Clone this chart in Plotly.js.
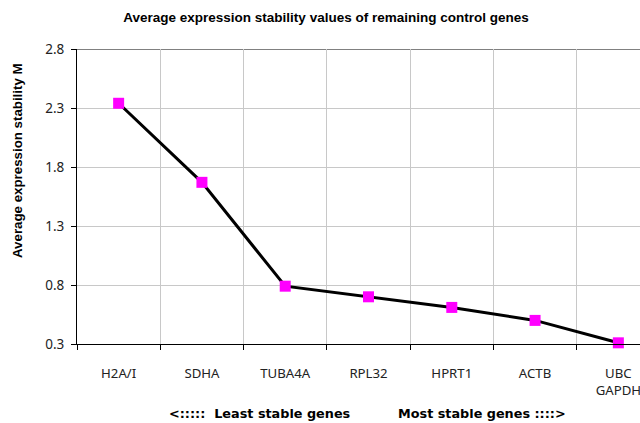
<!DOCTYPE html>
<html>
<head>
<meta charset="utf-8">
<script src="https://cdn.plot.ly/plotly-3.0.1.min.js"></script>
<style>
html,body{margin:0;padding:0;overflow:hidden;background:#fff;}
#chart{width:700px;height:423px;}
</style>
</head>
<body>
<div id="chart"></div>
<script>
const genes = ["H2A/I", "SDHA", "TUBA4A", "RPL32", "HPRT1", "ACTB", "UBC<br>GAPDH"];
const stabilityM = [2.34, 1.67, 0.79, 0.70, 0.61, 0.50, 0.31];
const yTicks = [0.3, 0.8, 1.3, 1.8, 2.3, 2.8];

const trace = {
  x: genes,
  y: stabilityM,
  type: "scatter",
  mode: "lines+markers",
  line: {color: "#000000", width: 3},
  marker: {symbol: "square", color: "#ff00ff", size: 11},
  cliponaxis: false,
  hoverinfo: "x+y"
};

const layout = {
  width: 700,
  height: 423,
  margin: {l: 77, r: 40, t: 49, b: 79},
  paper_bgcolor: "#ffffff",
  plot_bgcolor: "#ffffff",
  showlegend: false,
  font: {family: "Liberation Sans, Arial, sans-serif", color: "#222"},
  title: {
    text: "<b>Average expression stability values of remaining control genes</b>",
    font: {size: 13.5, color: "#000", family: "Liberation Sans, Arial, sans-serif"},
    xref: "container", x: 326/700, xanchor: "center",
    yref: "container", y: 1 - 17/423, yanchor: "middle"
  },
  xaxis: {
    type: "category",
    range: [-0.5, 6.5],
    tickson: "boundaries",
    ticks: "outside",
    ticklen: 5,
    tickcolor: "#000",
    showgrid: true,
    gridcolor: "#c8c8c8",
    gridwidth: 1,
    showline: true,
    linecolor: "#000",
    linewidth: 1,
    tickfont: {size: 13.2, color: "#222", family: "Noto Sans, sans-serif"},
    ticklabelstandoff: 17,
    zeroline: false,
    fixedrange: true
  },
  yaxis: {
    range: [0.3, 2.8],
    tickvals: yTicks,
    ticktext: yTicks.map(v => v.toFixed(1)),
    ticks: "outside",
    ticklen: 5,
    tickcolor: "#000",
    showgrid: true,
    gridcolor: "#c8c8c8",
    gridwidth: 1,
    showline: true,
    linecolor: "#000",
    linewidth: 1,
    tickfont: {size: 13.5, color: "#222", family: "Noto Sans, sans-serif"},
    ticklabelstandoff: 4,
    zeroline: false,
    fixedrange: true
  },
  shapes: [
    {type: "line", xref: "paper", x0: 0, x1: 1, yref: "y", y0: 2.8, y1: 2.8,
     line: {color: "#808080", width: 2}, layer: "below"}
  ],
  annotations: [
    {text: "<b>Average expression stability M</b>", xref: "paper", yref: "paper",
     x: (17 - 77) / 583, y: (344 - 161) / 295, xanchor: "center", yanchor: "middle",
     textangle: -90, showarrow: false, font: {size: 13.3, color: "#000", family: "Liberation Sans, Arial, sans-serif"}},
    {text: "<b>&lt;:::::  Least stable genes</b>", xref: "paper", yref: "paper",
     x: (260 - 77) / 583, y: (344 - 413) / 295, xanchor: "center", yanchor: "middle",
     showarrow: false, font: {size: 12.8, color: "#000", family: "DejaVu Sans, sans-serif"}},
    {text: "<b>Most stable genes ::::&gt;</b>", xref: "paper", yref: "paper",
     x: (482 - 77) / 583, y: (344 - 413) / 295, xanchor: "center", yanchor: "middle",
     showarrow: false, font: {size: 12.8, color: "#000", family: "DejaVu Sans, sans-serif"}}
  ]
};

Plotly.newPlot("chart", [trace], layout, {displayModeBar: false, staticPlot: true});
</script>
</body>
</html>
